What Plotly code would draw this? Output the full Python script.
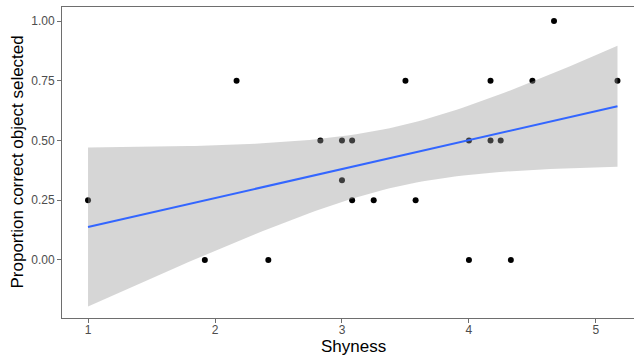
import numpy as np
import plotly.graph_objects as go

shyness = [1.0, 1.92, 2.17, 2.42, 2.83, 3.0, 3.0, 3.08, 3.08, 3.25, 3.5, 3.58,
           4.0, 4.0, 4.17, 4.17, 4.25, 4.33, 4.5, 4.67, 5.17]
proportion = [0.25, 0.0, 0.75, 0.0, 0.5, 0.5, 0.333, 0.5, 0.25, 0.25, 0.75, 0.25,
              0.5, 0.0, 0.75, 0.5, 0.5, 0.0, 0.75, 1.0, 0.75]
x_ticks = [1, 2, 3, 4, 5]
y_ticks = [0.0, 0.25, 0.5, 0.75, 1.0]
y_tick_labels = ["0.00", "0.25", "0.50", "0.75", "1.00"]

# linear model fit with 95% confidence band (like geom_smooth(method="lm"))
x = np.array(shyness)
y = np.array(proportion)
n = len(x)
slope, intercept = np.polyfit(x, y, 1)
resid = y - (intercept + slope * x)
s = np.sqrt(np.sum(resid ** 2) / (n - 2))
t_crit = 2.093  # t(0.975, df=19)
xg = np.linspace(x.min(), x.max(), 80)
yg = intercept + slope * xg
se = s * np.sqrt(1 / n + (xg - x.mean()) ** 2 / np.sum((x - x.mean()) ** 2))
upper = yg + t_crit * se
lower = yg - t_crit * se

fig = go.Figure()
fig.add_trace(go.Scatter(x=shyness, y=proportion, mode="markers",
                         marker=dict(color="black", size=6), showlegend=False,
                         hoverinfo="skip"))
fig.add_trace(go.Scatter(x=xg, y=lower, mode="lines", line=dict(width=0),
                         showlegend=False, hoverinfo="skip"))
fig.add_trace(go.Scatter(x=xg, y=upper, mode="lines", line=dict(width=0),
                         fill="tonexty", fillcolor="rgba(153,153,153,0.4)",
                         showlegend=False, hoverinfo="skip"))
fig.add_trace(go.Scatter(x=xg, y=yg, mode="lines",
                         line=dict(color="#3366FF", width=2),
                         showlegend=False, hoverinfo="skip"))

axis_common = dict(showgrid=False, zeroline=False, showline=True,
                   linecolor="#6e6e6e", linewidth=1, ticks="outside",
                   ticklen=4, tickcolor="#6e6e6e", tickwidth=1,
                   tickfont=dict(family="Liberation Sans, Arial", size=12, color="#4D4D4D"))

fig.update_layout(
    width=635, height=357,
    margin=dict(l=62, r=1, t=7, b=39),
    paper_bgcolor="white", plot_bgcolor="white",
    xaxis=dict(range=[0.795, 5.30], tickvals=x_ticks, ticklabelstandoff=-3,
               ticktext=[str(v) for v in x_ticks], mirror=True, **axis_common),
    yaxis=dict(range=[-0.243, 1.0586], tickvals=y_ticks, ticktext=y_tick_labels,
               **axis_common),
    font=dict(family="Liberation Sans, Arial", color="black"),
)
fig.add_annotation(text="Shyness", xref="paper", yref="paper",
                   x=(353 - 62) / 572, y=0, yshift=-40, xanchor="center", yanchor="bottom",
                   showarrow=False, font=dict(size=17, color="black"))
fig.add_annotation(text="Proportion correct object selected", xref="paper", yref="paper",
                   x=0, xshift=-45, y=0.5, xanchor="center", yanchor="middle",
                   textangle=-90, showarrow=False, font=dict(size=17, color="black"))

fig.write_html("out.html", config={"displayModeBar": False},
               post_script="document.body.style.margin='0';")
